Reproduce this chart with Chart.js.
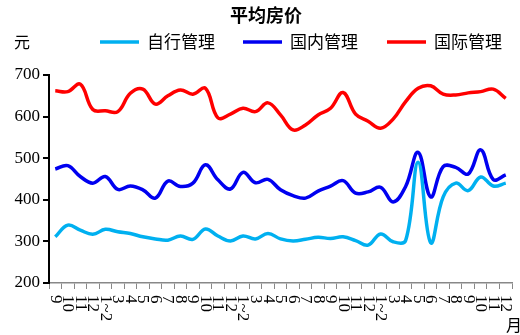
<!DOCTYPE html>
<html>
<head>
<meta charset="utf-8">
<script src="https://cdn.jsdelivr.net/npm/chart.js@4"></script>
<style>
  html, body { margin: 0; padding: 0; background: #fff; }
</style>
</head>
<body>
<canvas id="myChart" width="520" height="335"></canvas>
<script>
// month labels, Jan and Feb are reported together as 1~2
const monthLabels = ['9','10','11','12','1~2','3','4','5','6','7','8',
                     '9','10','11','12','1~2','3','4','5','6','7','8',
                     '9','10','11','12','1~2','3','4','5','6','7','8',
                     '9','10','11','12'];

const seriesNames = ['自行管理', '国内管理', '国际管理'];
const seriesColors = ['#00B0F0', '#0000F0', '#FF0000'];

const selfMgmt = [311,339,327,317,329,323,319,311,306,303,313,305,330,313,301,313,306,319,
                  306,301,305,310,307,311,302,291,318,299,302,490,297,407,440,422,455,433,440];
const domesticMgmt = [474,482,456,440,456,425,433,424,404,445,432,440,484,448,426,466,441,449,
                      424,410,404,421,433,446,416,419,430,395,432,514,407,480,478,462,520,449,460];
const intlMgmt = [662,660,678,617,614,612,656,666,630,650,664,654,668,597,606,620,612,633,
                  604,568,580,604,620,658,606,589,572,594,636,668,674,654,652,657,660,666,644];

const yTicks = [200, 300, 400, 500, 600, 700];

const cjk = '"Noto Sans CJK SC", sans-serif';
const serif = '"Liberation Serif", serif';

// title, legend, unit labels and rotated month labels
const extras = {
    id: 'extras',
    afterDraw(chart) {
        const ctx = chart.ctx;
        const xs = chart.scales.x;
        ctx.save();
        ctx.fillStyle = '#000';

        ctx.font = 'bold 18px ' + cjk;
        ctx.textAlign = 'center';
        ctx.textBaseline = 'middle';
        ctx.fillText('平均房价', 266, 15);

        ctx.font = '16px ' + cjk;
        ctx.fillText('元', 22, 42);
        ctx.fillText('月', 514, 325);

        const legendX = [[100, 147], [243, 290], [387, 434]];
        ctx.textAlign = 'left';
        ctx.font = '17px ' + cjk;
        seriesNames.forEach((name, i) => {
            ctx.strokeStyle = seriesColors[i];
            ctx.lineWidth = 3.5;
            ctx.beginPath();
            ctx.moveTo(legendX[i][0], 42);
            ctx.lineTo(legendX[i][0] + 39, 42);
            ctx.stroke();
            ctx.fillText(name, legendX[i][1], 42);
        });

        ctx.font = '17px ' + serif;
        ctx.textBaseline = 'middle';
        monthLabels.forEach((lab, i) => {
            const x = xs.getPixelForValue(i);
            ctx.save();
            ctx.translate(x, 295);
            ctx.rotate(Math.PI / 2);
            ctx.fillText(lab, 0, 0);
            ctx.restore();
        });
        ctx.restore();
    }
};

function makeSet(i, values) {
    return {
        label: seriesNames[i],
        data: values,
        borderColor: seriesColors[i],
        backgroundColor: seriesColors[i],
        borderWidth: 3.5,
        pointRadius: 0,
        tension: 0.4,
        fill: false
    };
}

const ctx = document.getElementById('myChart').getContext('2d');

let graph = new Chart(ctx, {
    type: 'line',
    data: {
        labels: monthLabels,
        datasets: [makeSet(0, selfMgmt), makeSet(1, domesticMgmt), makeSet(2, intlMgmt)]
    },
    options: {
        responsive: false,
        animation: false,
        layout: { padding: { top: 75, right: 8, left: 0, bottom: 0 } },
        plugins: {
            legend: { display: false },
            title: { display: false },
            tooltip: { enabled: false }
        },
        scales: {
            x: {
                offset: true,
                ticks: { display: false },
                grid: {
                    offset: true,
                    drawOnChartArea: false,
                    drawTicks: true,
                    tickLength: 6,
                    color: '#888',
                    lineWidth: 1
                },
                border: { display: true, color: '#888', width: 1.5 },
                afterFit(scale) { scale.height = 52; }
            },
            y: {
                min: 200,
                max: 700,
                afterBuildTicks(scale) {
                    scale.ticks = yTicks.map(v => ({ value: v }));
                },
                ticks: {
                    color: '#000',
                    padding: 3,
                    font: { family: serif, size: 17 }
                },
                grid: {
                    drawOnChartArea: false,
                    drawTicks: true,
                    tickLength: 6,
                    color: '#000',
                    lineWidth: 2
                },
                border: { display: true, color: '#000', width: 2 },
                afterFit(scale) { scale.width = 49; }
            }
        }
    },
    plugins: [extras]
});
</script>
</body>
</html>
